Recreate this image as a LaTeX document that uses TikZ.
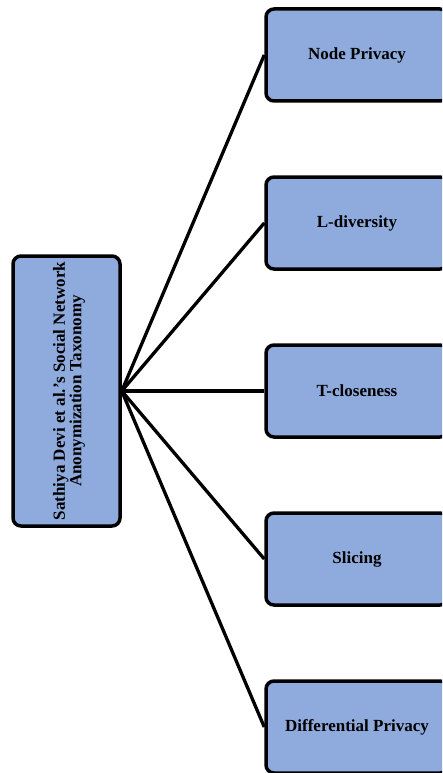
\documentclass[tikz,border=0pt]{standalone}
\usepackage{fontspec}
\setmainfont{Liberation Serif}
\begin{document}
\begin{tikzpicture}[x=1pt,y=-1pt,
  box/.style={draw=black, line width=3.5pt, rounded corners=8pt, fill=boxblue,
    font=\fontsize{17}{16.5}\selectfont\bfseries, align=center, inner sep=0pt},
  leaf/.style={box, minimum width=182pt, minimum height=92pt},
  link/.style={draw=black, line width=3.3pt}]
\definecolor{boxblue}{HTML}{8FAADC}
\clip (0,0) rectangle (442,773);
\useasboundingbox (0,0) rectangle (442,773);
\node[box, minimum width=107pt, minimum height=270pt] (root) at (66.5,391) {};
\node[rotate=90, font=\fontsize{17}{16.5}\selectfont\bfseries, align=center] (roottext) at (69,391)
  {Sathiya Devi et al.’s Social Network\\Anonymization Taxonomy};
\node[leaf] (n1) at (357,55) {Node Privacy};
\node[leaf] (n2) at (357,223) {L-diversity};
\node[leaf] (n3) at (357,391) {T-closeness};
\node[leaf] (n4) at (357,559) {Slicing};
\node[leaf] (n5) at (357,727) {Differential Privacy};
\foreach \n in {n1,n2,n3,n4,n5} \draw[link] (root.east) -- (\n.west);
\end{tikzpicture}
\end{document}
